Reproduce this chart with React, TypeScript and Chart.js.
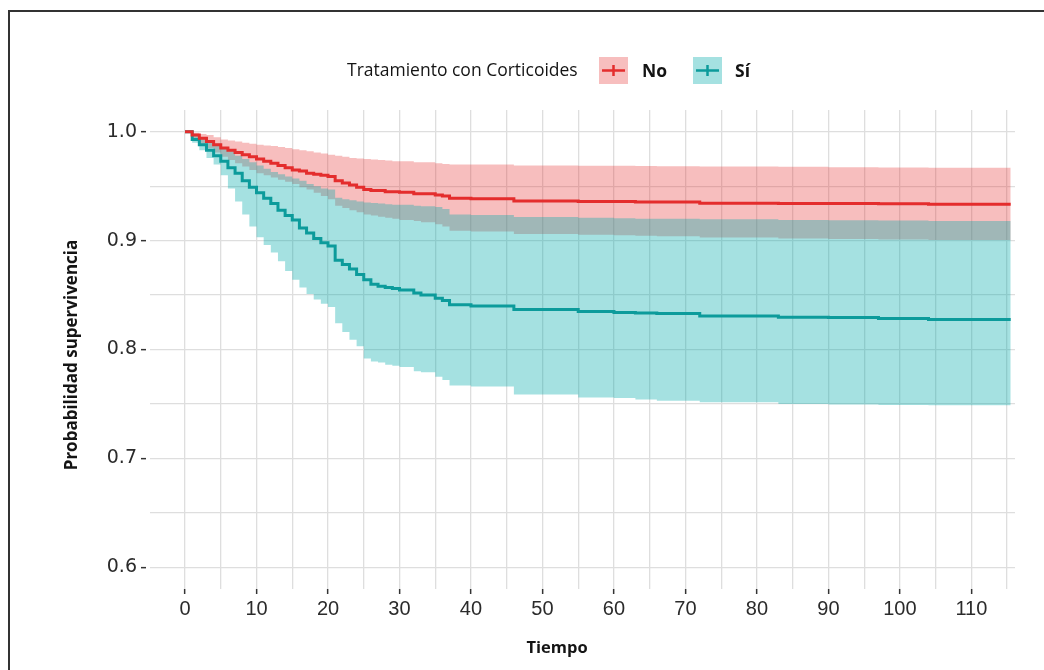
import React, { useEffect, useRef } from 'react';
import { Chart, registerables } from 'chart.js';

Chart.register(...registerables);

// ---- data ----
const times = [0, 1, 2, 3, 4, 5, 6, 7, 8, 9, 10, 11, 12, 13, 14, 15, 16, 17, 18, 19, 20, 21, 22, 23, 24, 25, 26, 27, 28, 29, 30, 32, 33, 35, 36, 37, 40, 46, 55, 60, 63, 66, 72, 83, 90, 97, 104, 115.5];

const noSurv = [1.0, 0.997, 0.994, 0.991, 0.988, 0.985, 0.983, 0.981, 0.979, 0.977, 0.975, 0.973, 0.971, 0.969, 0.967, 0.965, 0.964, 0.962, 0.961, 0.96, 0.959, 0.955, 0.953, 0.951, 0.949, 0.947, 0.946, 0.946, 0.945, 0.945, 0.9445, 0.943, 0.943, 0.942, 0.941, 0.939, 0.9385, 0.9365, 0.936, 0.936, 0.9355, 0.9355, 0.9343, 0.934, 0.934, 0.9338, 0.9335, 0.9335];
const noUpper = [1.0, 0.999, 0.998, 0.997, 0.995, 0.993, 0.992, 0.991, 0.99, 0.989, 0.988, 0.9875, 0.987, 0.986, 0.985, 0.984, 0.983, 0.982, 0.981, 0.98, 0.979, 0.978, 0.977, 0.976, 0.9755, 0.975, 0.9745, 0.974, 0.9735, 0.973, 0.973, 0.972, 0.972, 0.971, 0.9705, 0.97, 0.97, 0.969, 0.9688, 0.9687, 0.9685, 0.9683, 0.968, 0.9678, 0.9675, 0.9672, 0.967, 0.967];
const noLower = [1.0, 0.994, 0.989, 0.985, 0.981, 0.977, 0.974, 0.971, 0.968, 0.965, 0.962, 0.96, 0.958, 0.956, 0.954, 0.952, 0.949, 0.947, 0.944, 0.941, 0.938, 0.932, 0.93, 0.928, 0.926, 0.924, 0.923, 0.922, 0.921, 0.92, 0.919, 0.918, 0.917, 0.915, 0.913, 0.909, 0.9085, 0.906, 0.9055, 0.905, 0.9045, 0.904, 0.9028, 0.902, 0.9015, 0.901, 0.9006, 0.9006];

const siSurv = [1.0, 0.993, 0.988, 0.983, 0.978, 0.973, 0.967, 0.962, 0.955, 0.949, 0.944, 0.939, 0.934, 0.928, 0.923, 0.919, 0.9115, 0.907, 0.902, 0.898, 0.895, 0.882, 0.878, 0.874, 0.869, 0.864, 0.86, 0.858, 0.857, 0.856, 0.8546, 0.852, 0.85, 0.847, 0.845, 0.841, 0.84, 0.8368, 0.835, 0.834, 0.8335, 0.833, 0.8307, 0.8297, 0.8295, 0.8285, 0.8276, 0.8276];
const siUpper = [1.0, 0.998, 0.995, 0.992, 0.989, 0.986, 0.982, 0.978, 0.975, 0.972, 0.969, 0.966, 0.963, 0.961, 0.959, 0.957, 0.955, 0.952, 0.95, 0.948, 0.947, 0.9393, 0.938, 0.937, 0.936, 0.935, 0.9345, 0.934, 0.9335, 0.933, 0.933, 0.932, 0.9315, 0.931, 0.929, 0.924, 0.9235, 0.9218, 0.921, 0.9205, 0.92, 0.92, 0.9196, 0.919, 0.9188, 0.9185, 0.918, 0.918];
const siLower = [1.0, 0.99, 0.983, 0.976, 0.97, 0.96, 0.948, 0.936, 0.924, 0.913, 0.903, 0.896, 0.889, 0.881, 0.872, 0.864, 0.857, 0.851, 0.846, 0.842, 0.839, 0.824, 0.816, 0.809, 0.803, 0.7917, 0.789, 0.788, 0.786, 0.785, 0.784, 0.78, 0.779, 0.775, 0.772, 0.767, 0.766, 0.7586, 0.756, 0.7555, 0.754, 0.753, 0.7515, 0.75, 0.7495, 0.749, 0.7488, 0.7488];

const xTickLabels = [0, 10, 20, 30, 40, 50, 60, 70, 80, 90, 100, 110];
const yTickLabels = [0.6, 0.7, 0.8, 0.9, 1.0];
const groupLabels = ['No', 'Sí'];
const legendTitle = 'Tratamiento con Corticoides';
const xTitle = 'Tiempo';
const yTitle = 'Probabilidad supervivencia';

// ---- styles ----
const RED = 'rgb(228,45,45)';
const TEAL = 'rgb(12,155,155)';
const PINK = 'rgba(230,40,40,0.3)';
const CYAN = 'rgba(0,170,170,0.353)';
const GRID = '#DEDEDE';
const TEXT = '#141414';
const TICKTEXT = '#2b2b2b';

const toPts = (vals: number[]) => times.map((t, i) => ({ x: t, y: vals[i] }));

const xGridValues: number[] = [];
xTickLabels.forEach((v) => { xGridValues.push(v); xGridValues.push(v + 5); });
const yGridValues: number[] = [];
yTickLabels.forEach((v, i) => { yGridValues.push(v); if (i < yTickLabels.length - 1) yGridValues.push(Math.round((v + 0.05) * 100) / 100); });

const isMajorX = (v: number) => xTickLabels.includes(v);
const isMajorY = (v: number) => yTickLabels.some((t) => Math.abs(t - v) < 1e-6);

const extras = {
  id: 'extras',
  afterDraw(chart: any) {
    const ctx = chart.ctx as CanvasRenderingContext2D;
    ctx.save();
    // legend
    ctx.fillStyle = TEXT;
    ctx.textBaseline = 'middle';
    ctx.textAlign = 'left';
    ctx.font = '17.5px "Open Sans"';
    ctx.fillText(legendTitle, 347, 71);
    const keys = [
      { x: 599, fill: PINK, line: RED, label: groupLabels[0], lx: 642 },
      { x: 693, fill: CYAN, line: TEAL, label: groupLabels[1], lx: 735 },
    ];
    keys.forEach((k) => {
      ctx.fillStyle = '#ffffff';
      ctx.fillRect(k.x, 57, 29, 27);
      ctx.fillStyle = k.fill;
      ctx.fillRect(k.x, 57, 29, 27);
      ctx.strokeStyle = k.line;
      ctx.lineWidth = 2.5;
      ctx.beginPath();
      ctx.moveTo(k.x + 3, 70.5);
      ctx.lineTo(k.x + 26, 70.5);
      ctx.moveTo(k.x + 14.5, 65);
      ctx.lineTo(k.x + 14.5, 76);
      ctx.stroke();
      ctx.fillStyle = TEXT;
      ctx.font = 'bold 17.5px "Open Sans"';
      ctx.fillText(k.label, k.lx, 72);
    });
    // axis titles
    ctx.font = 'bold 16.5px "Open Sans"';
    ctx.textAlign = 'center';
    ctx.fillText(xTitle, 557, 648);
    ctx.translate(72, 355);
    ctx.rotate(-Math.PI / 2);
    ctx.font = 'bold 17px "Open Sans"';
    ctx.fillText(yTitle, 0, 0);
    ctx.restore();
  },
};

export default function App() {
  const ref = useRef<HTMLCanvasElement | null>(null);
  useEffect(() => {
    if (!ref.current) return;
    const line = (label: string, data: number[], color: string) => ({
      label, data: toPts(data), borderColor: color, backgroundColor: color,
      borderWidth: 3, pointRadius: 0, stepped: 'before' as const, fill: false,
    });
    const band = (label: string, data: number[], fill: any, bg: string) => ({
      label, data: toPts(data), borderWidth: 0, borderColor: 'transparent',
      backgroundColor: bg, pointRadius: 0, stepped: 'before' as const, fill,
    });
    const chart = new Chart(ref.current, {
      type: 'line',
      data: {
        datasets: [
          line(groupLabels[0], noSurv, RED),
          line(groupLabels[1], siSurv, TEAL),
          band('Sí sup', siUpper, '+1', CYAN),
          band('Sí inf', siLower, false, 'transparent'),
          band('No sup', noUpper, '+1', PINK),
          band('No inf', noLower, false, 'transparent'),
        ] as any,
      },
      options: {
        animation: false,
        responsive: false,
        devicePixelRatio: 1,
        layout: { padding: { left: 0, top: 110, right: 29, bottom: 0 } },
        plugins: {
          legend: { display: false },
          tooltip: { enabled: false },
          filler: { drawTime: 'beforeDatasetsDraw' },
        } as any,
        scales: {
          x: {
            type: 'linear',
            min: -4.9,
            max: 116.1,
            afterBuildTicks: (axis: any) => { axis.ticks = xGridValues.map((v) => ({ value: v })); },
            afterFit: (axis: any) => { axis.height = 81; },
            border: { display: false },
            grid: {
              color: GRID,
              lineWidth: 1.3,
              tickLength: 5,
              tickWidth: 1.5,
              tickColor: (c: any) => (isMajorX(c.tick?.value) ? '#333333' : 'rgba(0,0,0,0)'),
            },
            ticks: {
              autoSkip: false,
              maxRotation: 0,
              padding: 3,
              color: TICKTEXT,
              font: { family: '"Liberation Sans Narrow", "Liberation Sans", Arial', size: 20 },
              callback: (v: any) => (isMajorX(Number(v)) ? String(v) : ''),
            },
          },
          y: {
            type: 'linear',
            min: 0.58,
            max: 1.02,
            afterBuildTicks: (axis: any) => { axis.ticks = yGridValues.map((v) => ({ value: v })); },
            afterFit: (axis: any) => { axis.width = 150; },
            border: { display: false },
            grid: {
              color: GRID,
              lineWidth: 1.3,
              tickLength: 9,
              tickWidth: 1.5,
              tickBorderDash: [5, 4],
              tickColor: (c: any) => (isMajorY(c.tick?.value) ? '#333333' : 'rgba(0,0,0,0)'),
            },
            ticks: {
              autoSkip: false,
              padding: 4,
              color: TICKTEXT,
              font: { family: '"DejaVu Sans", "Liberation Sans"', size: 19 },
              callback: (v: any) => (isMajorY(Number(v)) ? Number(v).toFixed(1) : ''),
            },
          },
        },
      } as any,
      plugins: [extras],
    });
    return () => chart.destroy();
  }, []);

  return (
    <div style={{ position: 'absolute', left: 0, top: 0, width: 1044, height: 670, background: '#ffffff', overflow: 'hidden' }}>
      <div style={{ position: 'absolute', left: 8, top: 10, width: 1100, height: 700, borderLeft: '2px solid #333', borderTop: '2px solid #333' }} />
      <canvas ref={ref} width={1044} height={670} style={{ position: 'absolute', left: 0, top: 0 }} />
    </div>
  );
}
